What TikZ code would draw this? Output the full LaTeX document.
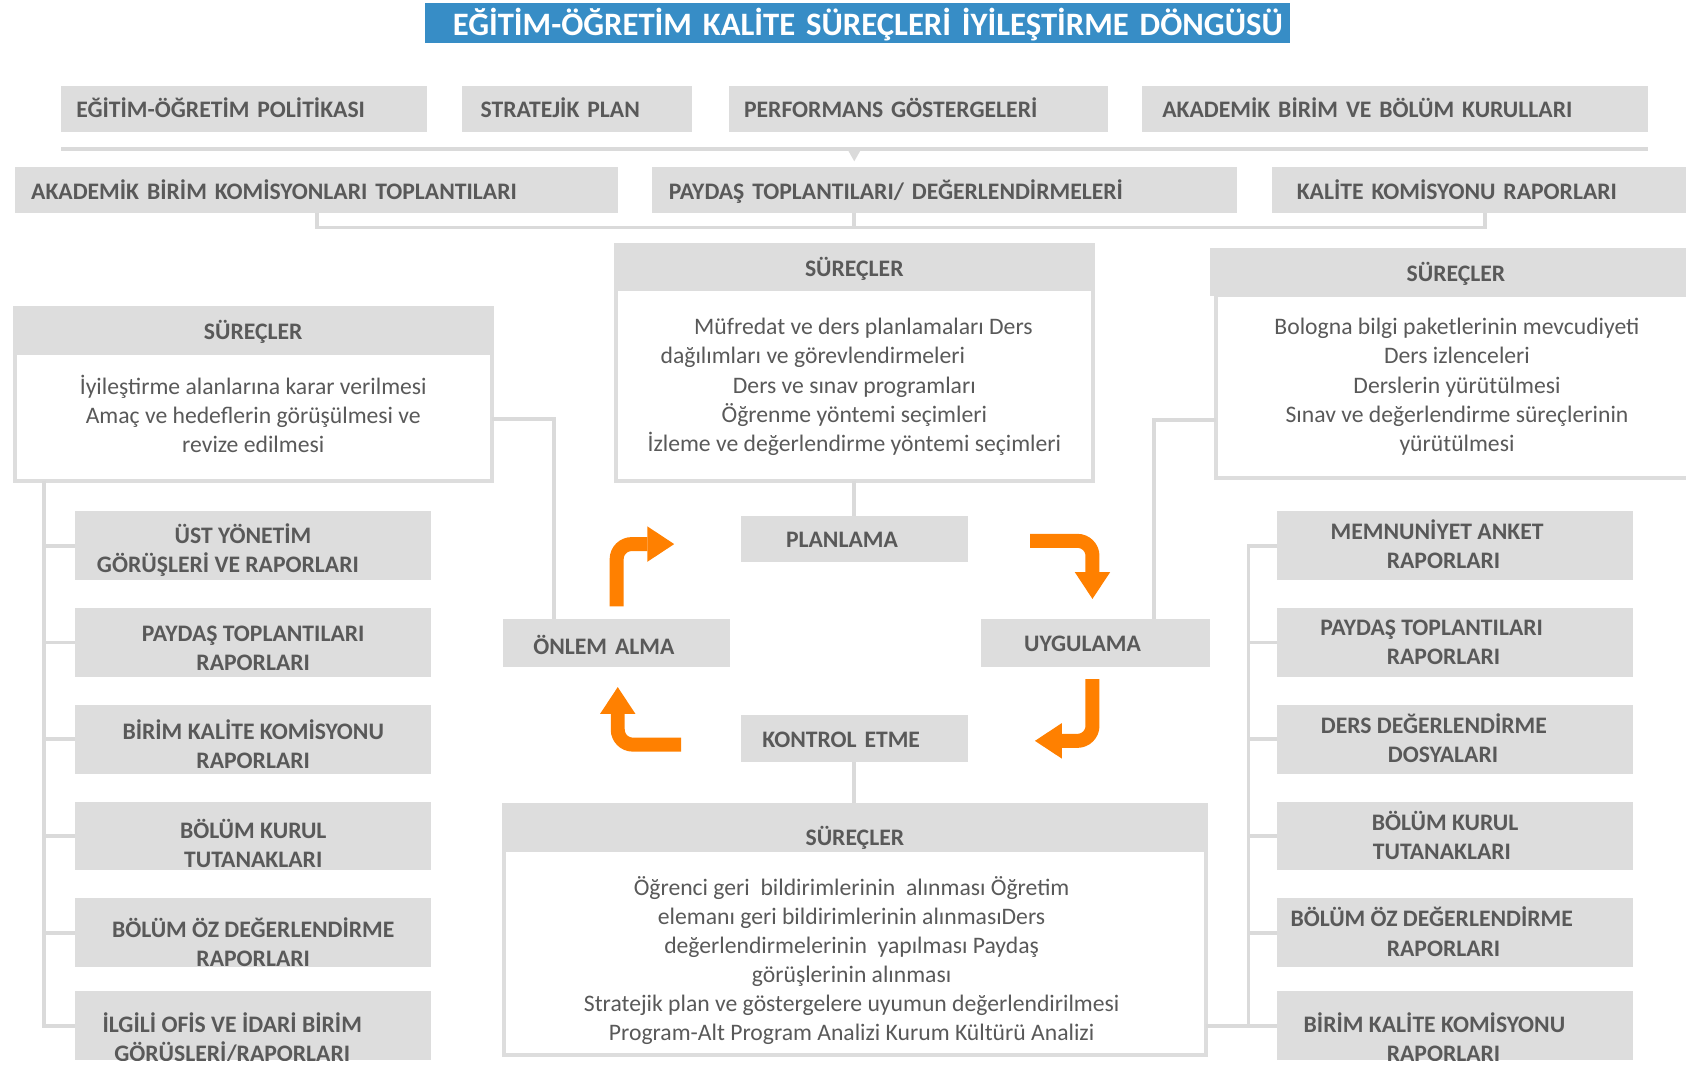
\documentclass[tikz,border=0pt]{standalone}
\usepackage{fontspec}
\setmainfont{Carlito}
\usetikzlibrary{arrows.meta,calc}
\definecolor{boxgray}{HTML}{DDDDDD}
\definecolor{linegray}{HTML}{DADADA}
\definecolor{txtgray}{HTML}{595959}
\definecolor{titleblue}{HTML}{378DC6}
\definecolor{arrorange}{HTML}{FF8000}
\newcommand{\bodyfont}{\fontsize{22}{27}\selectfont}
\newcommand{\tl}[1]{\begin{tabular}[t]{@{}c@{}}#1\end{tabular}}
\newcommand{\tlb}[1]{\begin{tabular}[t]{@{}c@{\hspace{6pt}}}#1\end{tabular}}
\newcommand{\padr}[1]{\rule{#1}{0pt}}
\tikzset{
  base/.style={font=\bodyfont, text=txtgray, inner ysep=0pt, outer sep=0pt},
  gbox/.style={base, fill=boxgray, font=\bodyfont\bfseries},
  lbl/.style={gbox, align=left, text height=16.2pt, text depth=0pt, minimum height=43pt},
  item/.style 2 args={gbox, minimum width=331pt, minimum height=64pt, text height=#1, text depth=#2},
  body/.style={base, fill=white, draw=boxgray, line width=3.5pt},
  head/.style={gbox, text height=18.2pt, text depth=0pt},
  title/.style={fill=titleblue, text=white, font=\fontsize{30.4}{37}\selectfont\bfseries,
     inner ysep=0pt, outer sep=0pt, inner xsep=7pt, minimum width=805pt, minimum height=37pt,
     text width=791pt, align=right, text height=22.5pt, text depth=0pt},
  conn/.style={draw=linegray, line width=3.5pt},
  oarrow/.style={draw=arrorange, line width=13pt, rounded corners=14pt,
     -{Triangle[length=25pt,width=33pt,line width=0pt]}}
}
\begin{document}
\begin{tikzpicture}[x=1pt,y=-1pt]
\useasboundingbox (0,0) rectangle (1568,990);
\fill[white] (0,0) rectangle (1568,990);
\clip (0,0) rectangle (1568,986);

% title
\node[title] (title) at (797.5,21.5) {EĞİTİM-ÖĞRETİM KALİTE SÜREÇLERİ İYİLEŞTİRME DÖNGÜSÜ};

% top rows
\node[lbl, inner xsep=14pt, text width=312pt] (r1a) at (227,101.5) {EĞİTİM-ÖĞRETİM POLİTİKASI};
\node[lbl, inner xsep=17pt, text width=180pt] (r1b) at (537,101.5) {STRATEJİK PLAN};
\node[lbl, inner xsep=14pt, text width=324pt] (r1c) at (854,101.5) {PERFORMANS GÖSTERGELERİ};
\node[lbl, inner xsep=19pt, text width=433pt] (r1d) at (1297.5,101.5) {AKADEMİK BİRİM VE BÖLÜM KURULLARI};
\node[lbl, inner xsep=15pt, text width=531pt, text height=17.2pt] (r2a) at (294.5,176.5) {AKADEMİK BİRİM KOMİSYONLARI TOPLANTILARI};
\node[lbl, inner xsep=16pt, text width=512pt, text height=17.2pt] (r2b) at (878,176.5) {PAYDAŞ TOPLANTILARI/ DEĞERLENDİRMELERİ};
\node[lbl, inner xsep=23pt, text width=350pt, text height=17.2pt] (r2c) at (1381,176.5) {KALİTE KOMİSYONU RAPORLARI};

% process boxes
\node[body, minimum width=443.5pt, minimum height=118.5pt, text height=37.75pt, text depth=80.75pt] (lbody) at (235.5,388)
  {\tl{İyileştirme alanlarına karar verilmesi\\Amaç ve hedeflerin görüşülmesi ve\\revize edilmesi}};
\node[head, minimum width=447pt, minimum height=44pt] (lhead) at (235.5,307) {SÜREÇLER};

\node[body, minimum width=443.5pt, minimum height=178.25pt, text height=42.5pt, text depth=135.75pt] (cbody) at (794.5,358.125)
  {\tl{\padr{17pt}Müfredat ve ders planlamaları Ders\\dağılımları ve görevlendirmeleri\padr{77pt}\\Ders ve sınav programları\\Öğrenme yöntemi seçimleri\\İzleme ve değerlendirme yöntemi seçimleri}};
\node[head, minimum width=447pt, minimum height=44pt] (chead) at (794.5,248) {SÜREÇLER};

\node[body, minimum width=448.5pt, minimum height=170.25pt, text height=37.5pt, text depth=132.75pt] (rbody) at (1355,359.125)
  {\tl{Bologna bilgi paketlerinin mevcudiyeti\\Ders izlenceleri\\Derslerin yürütülmesi\\Sınav ve değerlendirme süreçlerinin\\yürütülmesi}};
\node[head, minimum width=458pt, minimum height=44pt] (rhead) at (1354,253) {SÜREÇLER};

\node[body, minimum width=652.5pt, minimum height=190.25pt, text height=41.5pt, text depth=148.75pt] (bbody) at (795,886.125)
  {\tlb{Öğrenci geri \ bildirimlerinin \ alınması Öğretim\\elemanı geri bildirimlerinin alınmasıDers\\değerlendirmelerinin \ yapılması Paydaş\\görüşlerinin alınması\\Stratejik plan ve göstergelere uyumun değerlendirilmesi\\Program-Alt Program Analizi Kurum Kültürü Analizi}};
\node[head, minimum width=656pt, minimum height=45.5pt, text height=33.7pt] (bhead) at (795,769.25) {SÜREÇLER};

% cycle
\node[lbl, inner xsep=42pt, text width=127pt] (plan) at (794.5,501.5) {PLANLAMA};
\node[lbl, inner xsep=28pt, text width=155pt, minimum height=44pt, text height=22.2pt] (onlem) at (573.5,598) {ÖNLEM ALMA};
\node[lbl, inner xsep=40.5pt, text width=132pt, minimum height=44pt] (uyg) at (1018.5,598) {UYGULAMA};
\node[lbl, inner xsep=20pt, text width=171pt, minimum height=44pt] (kontrol) at (794.5,687) {KONTROL ETME};

% left list
\node[item={29.6pt}{34.4pt}] (l1) at (235.5,507.5) {\tl{ÜST YÖNETİM\padr{19pt}\\GÖRÜŞLERİ VE RAPORLARI\padr{47pt}}};
\node[item={31pt}{33pt}] (l2) at (235.5,597.5) {\tl{PAYDAŞ TOPLANTILARI\\RAPORLARI}};
\node[item={32.6pt}{31.4pt}] (l3) at (235.5,687.5) {\tl{BİRİM KALİTE KOMİSYONU\\RAPORLARI}};
\node[item={34.2pt}{29.8pt}] (l4) at (235.5,777.5) {\tl{BÖLÜM KURUL\\TUTANAKLARI}};
\node[item={36pt}{28pt}] (l5) at (235.5,867.5) {\tl{BÖLÜM ÖZ DEĞERLENDİRME\\RAPORLARI}};
\node[item={38.6pt}{25.4pt}] (l6) at (235.5,954) {\tl{İLGİLİ OFİS VE İDARİ BİRİM\padr{39pt}\\GÖRÜŞLERİ/RAPORLARI\padr{39pt}}};

% right list
\node[item={26.6pt}{37.4pt}] (rl1) at (1353.5,507.5) {\tl{MEMNUNİYET ANKET\padr{34pt}\\RAPORLARI\padr{22pt}}};
\node[item={25.6pt}{38.4pt}] (rl2) at (1353.5,597.5) {\tl{PAYDAŞ TOPLANTILARI\padr{44pt}\\RAPORLARI\padr{22pt}}};
\node[item={26.6pt}{37.4pt}] (rl3) at (1353.5,687.5) {\tl{DERS DEĞERLENDİRME\padr{40pt}\\DOSYALARI\padr{23pt}}};
\node[item={26.6pt}{37.4pt}] (rl4) at (1353.5,777.5) {\tl{BÖLÜM KURUL\padr{19pt}\\TUTANAKLARI\padr{25pt}}};
\node[item={26.6pt}{37.4pt}] (rl5) at (1353.5,867.5) {\tl{BÖLÜM ÖZ DEĞERLENDİRME\padr{44pt}\\RAPORLARI\padr{22pt}}};
\node[item={37.9pt}{26.1pt}] (rl6) at (1353.5,954) {\tl{BİRİM KALİTE KOMİSYONU\padr{39pt}\\RAPORLARI\padr{22pt}}};

% connectors: top bar with pointer
\coordinate (barL) at ([yshift=-15.5pt]r1a.south west);
\coordinate (barR) at ([yshift=-15.5pt]r1d.south east);
\draw[conn] (barL) -- (barR);
\coordinate (tri) at (barL -| chead.north);
\fill[linegray] ($(tri)+(-6.5,0)$) -- ($(tri)+(6.5,0)$) -- ($(tri)+(0,11.5)$) -- cycle;

% bracket under second row
\draw[conn] (r2a.south) -- ++(0,13.5) -| (r2c.south);
\draw[conn] (r2b.south -| chead.north) -- ++(0,13.5);

% vertical links of the cycle
\draw[conn] (cbody.south) -- (plan.north);
\draw[conn] (kontrol.south) -- (kontrol.south |- bhead.north);
\draw[conn] ([yshift=-2pt]lbody.east) -| ([xshift=-58.5pt]onlem.north);
\draw[conn] ([yshift=-31.5pt]rbody.west) -| ([xshift=54.5pt]uyg.north);

% left trunk
\coordinate (lt) at ([xshift=27.25pt]lbody.south west);
\draw[conn] (lt) |- (l6.west);
\foreach \n in {l1,l2,l3,l4,l5} \draw[conn] (\n.west -| lt) -- (\n.west);

% right trunk
\draw[conn] (rl1.west) -- ++(-27,0) coordinate (rt) |- (rl6.west);
\foreach \n in {rl2,rl3,rl4,rl5} \draw[conn] (\n.west -| rt) -- (\n.west);
\draw[conn] (bbody.east |- rl6.west) -- (rl6.west);

% orange cycle arrows
\coordinate (a1s) at ([yshift=12pt]onlem.north);
\coordinate (a1e) at ([xshift=-62pt,yshift=-4.5pt]plan.west);
\draw[oarrow] (a1s) |- (a1e);
\coordinate (a2s) at ([xshift=58pt,yshift=-1.5pt]plan.east);
\coordinate (a2e) at ([xshift=-2.5pt,yshift=19pt]uyg.north);
\draw[oarrow] (a2s) -| (a2e);
\coordinate (a3s) at ([xshift=-2.5pt,yshift=-11.5pt]uyg.south);
\coordinate (a3e) at ([xshift=62.5pt,yshift=-2pt]kontrol.east);
\draw[oarrow] (a3s) |- (a3e);
\coordinate (a4s) at ([xshift=-55.5pt,yshift=-5.5pt]kontrol.west);
\coordinate (a4e) at ([xshift=1pt,yshift=-19pt]onlem.south);
\draw[oarrow] (a4s) -| (a4e);
\end{tikzpicture}
\end{document}
